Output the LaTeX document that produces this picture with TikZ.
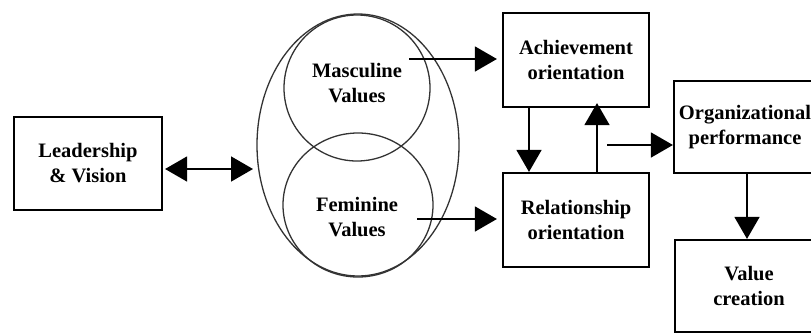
\documentclass[tikz,border=0pt]{standalone}
\usepackage{fontspec}
\setmainfont{Liberation Serif}
\usetikzlibrary{arrows.meta}
\begin{document}
\begin{tikzpicture}[x=1bp,y=-1bp,
  box/.style={draw, line width=2.2bp, inner sep=0pt, align=center,
    font=\fontsize{20.5bp}{25bp}\selectfont\bfseries},
  lbl/.style={inner sep=0pt, align=center, font=\fontsize{20.5bp}{25bp}\selectfont\bfseries},
  circ/.style={draw=black!80, line width=1.3bp},
  arr/.style={line width=1.6bp, -{Triangle[length=22bp,width=25bp]}},
  darr/.style={line width=1.6bp, {Triangle[length=22bp,width=25bp]}-{Triangle[length=22bp,width=25bp]}}]
\useasboundingbox (0,0) rectangle (811,332);
\clip (0,0) rectangle (811,332);
% boxes
\node[box, minimum width=148bp, minimum height=93bp] (lead) at (88,163.5) {Leadership\\\& Vision};
\node[box, minimum width=146bp, minimum height=94bp] (ach) at (576,60) {Achievement\\orientation};
\node[box, minimum width=146bp, minimum height=94bp] (rel) at (576,220) {Relationship\\orientation};
\node[box, minimum width=142bp, minimum height=92bp] (org) at (745,127) {Organizational\\performance};
\node[box, minimum width=148bp, minimum height=92bp] (val) at (749,286) {Value\\creation};
% ellipses
\draw[circ] (358,145) ellipse [x radius=101, y radius=131];
\draw[circ] (357,88) ellipse [x radius=73, y radius=73];
\draw[circ] (358,205) ellipse [x radius=75, y radius=72];
\node[lbl] (masc) at (357,83) {Masculine\\Values};
\node[lbl] (fem) at (357,217) {Feminine\\Values};
\coordinate (ell) at (257,169);
\coordinate (mstart) at (409,59);
\coordinate (fstart) at (417,219);
% connectors
\draw[darr] ([xshift=2bp]lead.east |- ell) -- ([xshift=-4bp]ell);
\draw[arr] (mstart) -- ([xshift=-5bp]mstart -| ach.west);
\draw[arr] (fstart) -- ([xshift=-5bp]fstart -| rel.west);
\draw[arr] (ach.south -| 529,0) -- (rel.north -| 529,0);
\draw[arr] (rel.north -| 597,0) -- ([yshift=5bp]ach.south -| 597,0);
\coordinate (ostart) at (607,145);
\draw[arr] (ostart) -- (ostart -| org.west);
\draw[arr] (org.south -| 747,0) -- (val.north -| 747,0);
\end{tikzpicture}
\end{document}
